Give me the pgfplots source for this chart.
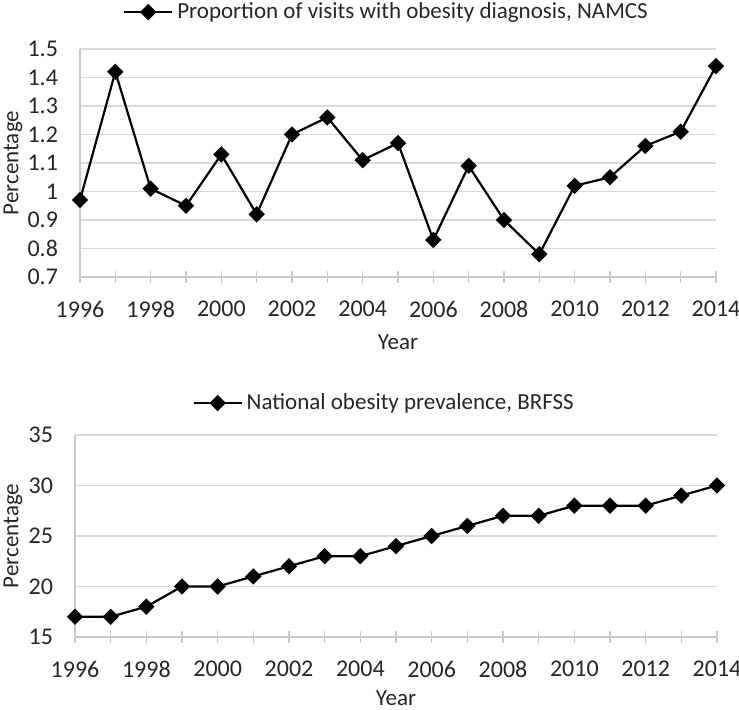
\documentclass[border=0pt]{standalone}
\usepackage{pgfplots}
\pgfplotsset{compat=1.18}
\usepackage{fontspec}
\setmainfont{Carlito}
\definecolor{gridgray}{HTML}{D9D9D9}
\definecolor{axgray}{HTML}{C8C8C8}
\definecolor{txt}{HTML}{262626}
\pgfplotsset{
  myline/.style={black, line width=1.1pt, mark=square*,
      mark size=2.35pt, mark options={rotate=45, solid, fill=black}},
  commonstyle/.style={
    scale only axis,
    clip=false,
    font=\fontsize{11.5}{13.5}\selectfont,
    /pgf/number format/assume math mode=true,
    /pgf/number format/1000 sep={},
    axis x line*=bottom,
    axis y line*=left,
    axis line style={axgray, line width=0.6pt},
    xmin=1996, xmax=2014,
    xtick={1996,1998,...,2014},
    minor xtick={1997,1999,...,2013},
    tick align=center,
    major tick length=6pt,
    minor tick length=6pt,
    x tick style={axgray, line width=0.6pt},
    minor x tick style={axgray, line width=0.6pt},
    ytick style={draw=none},
    ymajorgrids,
    major grid style={gridgray, line width=0.6pt},
    tick label style={font=\fontsize{12}{14}\selectfont},
    xticklabel style={yshift=-5.5pt, text=txt},
    yticklabel style={xshift=-4.5pt, text=txt},
    label style={text=txt},
    legend style={draw=none, fill=none, text=txt, font=\fontsize{11.5}{13.5}\selectfont,
      legend cell align=left},
    legend image code/.code={\draw[mark repeat=2,mark phase=2,##1] plot coordinates {(0pt,0pt)(12pt,0pt)(24pt,0pt)};},
  }
}
\begin{document}
\begin{tikzpicture}
\path[use as bounding box] (0,0) rectangle (369.5pt,355pt);
\begin{axis}[commonstyle,
  at={(40pt,216.5pt)}, anchor=south west,
  width=318pt, height=114pt,
  ymin=0.7, ymax=1.5,
  ytick={0.7,0.8,0.9,1,1.1,1.2,1.3,1.4,1.5},
  xlabel={Year}, ylabel={Percentage},
  xlabel style={at={(axis description cs:0.5,-0.285)}, anchor=center},
  ylabel style={at={(axis description cs:-0.1053,0.5)}, anchor=center},
  legend style={at={(axis description cs:0.4835,1.162)}, anchor=center},
]
\addplot[myline] coordinates {
(1996,0.97) (1997,1.42) (1998,1.01) (1999,0.95) (2000,1.13) (2001,0.92)
(2002,1.20) (2003,1.26) (2004,1.11) (2005,1.17) (2006,0.83) (2007,1.09)
(2008,0.90) (2009,0.78) (2010,1.02) (2011,1.05) (2012,1.16) (2013,1.21)
(2014,1.44)};
\addlegendentry{Proportion of visits with obesity diagnosis, NAMCS}
\end{axis}
\begin{axis}[commonstyle,
  at={(37.5pt,36.5pt)}, anchor=south west,
  width=321pt, height=101pt,
  ymin=15, ymax=35,
  ytick={15,20,25,30,35},
  xlabel={Year}, ylabel={Percentage},
  xlabel style={at={(axis description cs:0.5,-0.305)}, anchor=center},
  ylabel style={at={(axis description cs:-0.0966,0.5)}, anchor=center},
  legend style={at={(axis description cs:0.483,1.158)}, anchor=center},
]
\addplot[myline] coordinates {
(1996,17) (1997,17) (1998,18) (1999,20) (2000,20) (2001,21)
(2002,22) (2003,23) (2004,23) (2005,24) (2006,25) (2007,26)
(2008,27) (2009,27) (2010,28) (2011,28) (2012,28) (2013,29)
(2014,30)};
\addlegendentry{National obesity prevalence, BRFSS}
\end{axis}
\end{tikzpicture}
\end{document}
